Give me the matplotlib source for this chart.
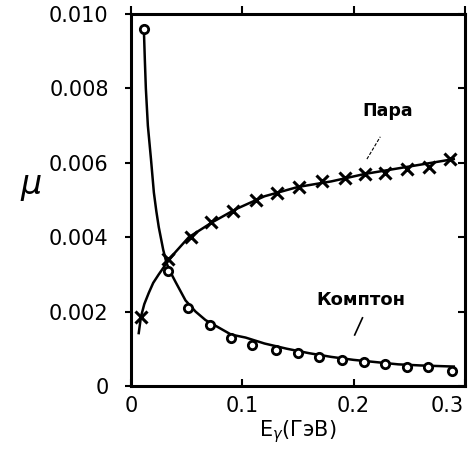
import matplotlib.pyplot as plt
from matplotlib.transforms import ScaledTranslation

# data points
compton_x = [0.0116, 0.033, 0.051, 0.071, 0.090, 0.109, 0.130, 0.150, 0.169, 0.190, 0.209, 0.228, 0.248, 0.267, 0.288]
compton_y = [0.0096, 0.0031, 0.0021, 0.00164, 0.0013, 0.0011, 0.00097, 0.00089, 0.00078, 0.0007, 0.00065, 0.00059, 0.00051, 0.0005, 0.0004]
para_x = [0.009, 0.033, 0.054, 0.072, 0.092, 0.112, 0.131, 0.151, 0.172, 0.192, 0.210, 0.228, 0.248, 0.268, 0.287]
para_y = [0.00186, 0.0034, 0.004, 0.0044, 0.0047, 0.005, 0.0052, 0.00535, 0.0055, 0.0056, 0.0057, 0.00573, 0.00583, 0.0059, 0.0061]

# fitted curves
compton_fit_x = [0.0116, 0.0125, 0.0134, 0.0152, 0.018, 0.0206, 0.0228, 0.025, 0.029, 0.032, 0.036, 0.040, 0.049, 0.058,
                 0.067, 0.080, 0.090, 0.103, 0.120, 0.140, 0.160, 0.180, 0.200, 0.220, 0.240, 0.260, 0.290]
compton_fit_y = [0.0096, 0.00876, 0.008, 0.007, 0.0061, 0.0052, 0.0047, 0.00427, 0.00366, 0.0033, 0.00303, 0.0028, 0.0023, 0.002,
                 0.00177, 0.00155, 0.00138, 0.0013, 0.00114, 0.001, 0.00088, 0.00078, 0.0007, 0.00064, 0.00058, 0.00055, 0.00052]
para_fit_x = [0.007, 0.009, 0.012, 0.016, 0.020, 0.025, 0.032, 0.040, 0.052, 0.073, 0.094, 0.120, 0.150, 0.180, 0.210, 0.240, 0.270, 0.290]
para_fit_y = [0.00142, 0.00186, 0.0022, 0.0025, 0.00277, 0.003, 0.0033, 0.0036, 0.004, 0.0044, 0.00475, 0.0051, 0.00535, 0.0055,
              0.0057, 0.00585, 0.006, 0.0061]

xticks = [0, 0.1, 0.2, 0.3]
xlabels = ["0", "0.1", "0.2", "0.3"]
yticks = [0, 0.002, 0.004, 0.006, 0.008, 0.010]
ylabels = ["0", "0.002", "0.004", "0.006", "0.008", "0.010"]

fig = plt.figure(figsize=(4.71, 4.54), dpi=100)
ax = fig.add_axes([0.278, 0.15, 0.709, 0.819])

ax.plot(compton_fit_x, compton_fit_y, color="black", lw=1.8, solid_joinstyle="round")
ax.plot(para_fit_x, para_fit_y, color="black", lw=1.8, solid_joinstyle="round")
ax.plot(compton_x, compton_y, "o", ms=6, mfc="white", mec="black", mew=2)
ax.plot(para_x, para_y, "x", ms=8, mec="black", mew=2.2)

ax.set_xlim(0, 0.3)
ax.set_ylim(0, 0.010)
ax.set_xticks(xticks)
ax.set_xticklabels(xlabels, fontsize=15)
ax.set_yticks(yticks)
ax.set_yticklabels(ylabels, fontsize=15)
ax.tick_params(axis="y", direction="out", length=4, width=1.5, pad=12)
ax.tick_params(axis="x", direction="in", length=5, width=1.5, pad=7)
last = ax.get_xticklabels()[-1]
last.set_transform(last.get_transform() + ScaledTranslation(-13 / 72, 0, fig.dpi_scale_trans))
for s in ax.spines.values():
    s.set_linewidth(2.2)

top = ax.secondary_xaxis("top")
top.set_xticks(xticks)
top.set_xticklabels([])
top.tick_params(direction="out", length=6, width=1.5)
right = ax.secondary_yaxis("right")
right.set_yticks(yticks)
right.set_yticklabels([])
right.tick_params(direction="in", length=5, width=1.5)

ax.set_xlabel("E$_\\gamma$(ГэВ)", fontsize=15, labelpad=2)
fig.text(0.065, 0.59, "$\\mu$", fontsize=24, ha="center", va="center")

ax.text(0.208, 0.0074, "Пара", fontsize=12.5, fontweight="bold", ha="left", va="center")
ax.plot([0.212, 0.224], [0.0061, 0.0067], color="black", lw=0.8, ls=(0, (3, 1.5)))
ax.text(0.167, 0.0023, "Комптон", fontsize=13, fontweight="bold", ha="left", va="center")
ax.plot([0.201, 0.208], [0.00137, 0.00183], color="black", lw=1.2)

fig.savefig("out.png", dpi=100)
